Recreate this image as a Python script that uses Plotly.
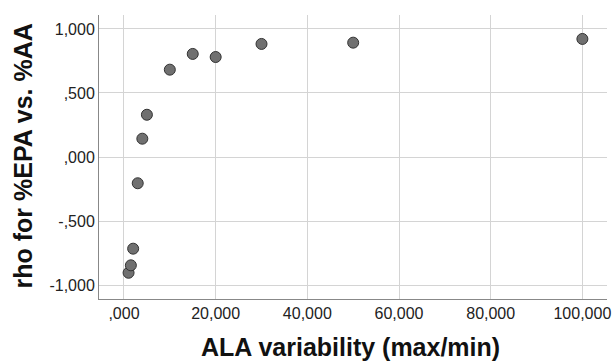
import plotly.graph_objects as go

ala_variability = [1, 1.5, 2, 3, 4, 5, 10, 15, 20, 30, 50, 100]
rho_epa_aa = [-0.904, -0.846, -0.716, -0.205, 0.143, 0.330, 0.682, 0.805, 0.781, 0.883, 0.893, 0.922]

x_ticks = [0, 20, 40, 60, 80, 100]
x_tick_labels = [",000", "20,000", "40,000", "60,000", "80,000", "100,000"]
y_ticks = [-1, -0.5, 0, 0.5, 1]
y_tick_labels = ["-1,000", "-,500", ",000", ",500", "1,000"]
x_title = "ALA variability (max/min)"
y_title = "rho for %EPA vs. %AA"

fig = go.Figure(go.Scatter(
    x=ala_variability, y=rho_epa_aa, mode="markers",
    marker=dict(size=11, color="#707070", line=dict(color="#333333", width=1)),
    showlegend=False,
))

font = "Liberation Sans, Arial, sans-serif"
L, R, T, B = 99, 6, 15, 65
W, H = 613, 364
pw, ph = W - L - R, H - T - B

fig.update_layout(
    width=W, height=H,
    margin=dict(l=L, r=R, t=T, b=B, autoexpand=False),
    plot_bgcolor="white", paper_bgcolor="white",
    font=dict(family=font, color="#222222"),
    xaxis=dict(
        range=[-5.45, 105.37], tickvals=x_ticks, ticktext=x_tick_labels,
        showgrid=True, gridcolor="#d4d4d4", gridwidth=1, zeroline=False,
        showline=True, linecolor="#888888", linewidth=1, ticks="",
        tickfont=dict(size=16, family=font, color="#222222"), automargin=False,
    ),
    yaxis=dict(
        range=[-1.109, 1.109], tickvals=y_ticks, ticktext=y_tick_labels,
        showgrid=True, gridcolor="#d4d4d4", gridwidth=1, zeroline=False,
        showline=True, linecolor="#888888", linewidth=1, ticks="",
        tickfont=dict(size=16, family=font, color="#222222"), automargin=False,
    ),
    annotations=[
        dict(text="<b>" + x_title + "</b>", xref="paper", yref="paper",
             x=(350.5 - L) / pw, y=(H - B - 346.5) / ph, xanchor="center", yanchor="middle",
             showarrow=False, font=dict(size=25, family=font, color="#111111")),
        dict(text="<b>" + y_title + "</b>", xref="paper", yref="paper", textangle=-90,
             x=(23 - L) / pw, y=(H - B - 156.5) / ph, xanchor="center", yanchor="middle",
             showarrow=False, font=dict(size=25, family=font, color="#111111")),
    ],
)

fig.write_html("out.html", config={"displayModeBar": False},
               post_script="document.body.style.margin='0';document.body.style.overflow='hidden';")
